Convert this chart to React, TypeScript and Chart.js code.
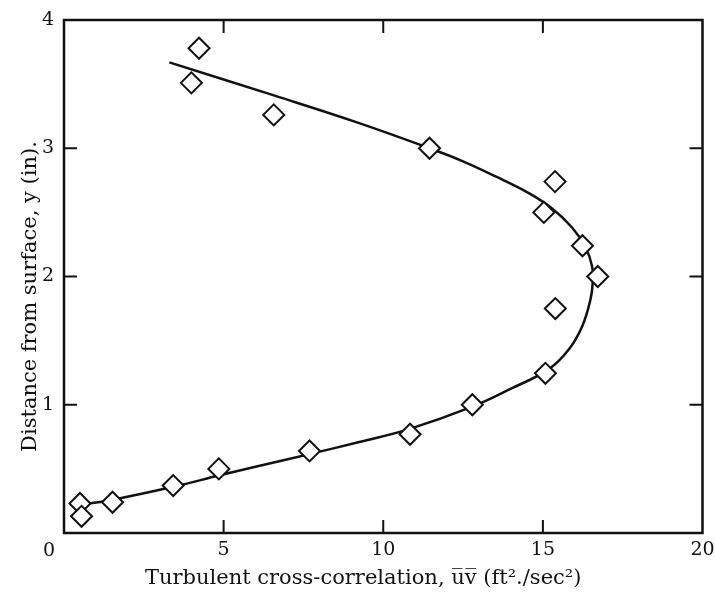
import React, { useEffect, useRef } from "react";
import { Chart, registerables } from "chart.js";

Chart.register(...registerables);

// Measured points (x: uv ft²/sec², y: distance in)
const pointX = [4.23, 3.99, 6.57, 11.45, 15.38, 15.03, 16.24, 16.72, 15.39, 15.08, 12.79, 10.84, 7.69, 4.85, 3.42, 1.52, 0.5, 0.55];
const pointY = [3.78, 3.51, 3.26, 3.0, 2.74, 2.5, 2.24, 2.0, 1.75, 1.245, 1.0, 0.77, 0.64, 0.5, 0.37, 0.24, 0.23, 0.13];

// Fitted curve (traced along its path, top to bottom)
const curveX = [3.3, 6.6, 9.2, 11.45, 12.48, 13.52, 14.56, 15.29, 15.92, 16.33, 16.54, 16.56, 16.49, 16.23, 15.81, 15.2, 14.0, 12.79, 10.81, 9.25, 7.69, 6.13, 4.875, 3.42, 1.54, 0.5];
const curveY = [3.67, 3.41, 3.2, 3.0, 2.9, 2.78, 2.65, 2.53, 2.38, 2.23, 2.08, 1.95, 1.82, 1.61, 1.43, 1.28, 1.125, 0.985, 0.81, 0.71, 0.615, 0.525, 0.45, 0.36, 0.26, 0.22];

const xTicks = [5, 10, 15];
const yTicks = [1, 2, 3];
const xLabels = ["0", "5", "10", "15", "20"];
const yLabels = ["1", "2", "3", "4"];

const xTitle = "Turbulent cross-correlation, u\u0305v\u0305 (ft\u00b2./sec\u00b2)";
const yTitle = "Distance from surface, y (in).";
const SHIFT = "\u00a0\u00a0\u00a0\u00a0\u00a0\u00a0";

const FONT = "'DejaVu Serif', serif";

const framePlugin = {
  id: "frame",
  afterDraw(chart: any) {
    const { ctx, chartArea: a, scales } = chart;
    const xs = scales.x;
    const ys = scales.y;
    ctx.save();
    ctx.strokeStyle = "#111";
    ctx.lineWidth = 2.5;
    ctx.strokeRect(a.left, a.top, a.right - a.left, a.bottom - a.top);
    ctx.lineWidth = 2;
    const len = 13;
    ctx.beginPath();
    xTicks.forEach((v) => {
      const px = xs.getPixelForValue(v);
      ctx.moveTo(px, a.bottom);
      ctx.lineTo(px, a.bottom - len);
      ctx.moveTo(px, a.top);
      ctx.lineTo(px, a.top + len);
    });
    yTicks.forEach((v) => {
      const py = ys.getPixelForValue(v);
      ctx.moveTo(a.left, py);
      ctx.lineTo(a.left + len, py);
      ctx.moveTo(a.right, py);
      ctx.lineTo(a.right - len, py);
    });
    ctx.stroke();
    // origin label, set off to the left like the original
    ctx.fillStyle = "#111";
    ctx.font = "19px " + FONT;
    ctx.textAlign = "center";
    ctx.textBaseline = "middle";
    ctx.fillText(xLabels[0], a.left - 15, a.bottom + 18);
    ctx.restore();
  },
};

export default function App() {
  const ref = useRef<HTMLCanvasElement | null>(null);
  useEffect(() => {
    document.body.style.margin = "0";
    const canvas = ref.current!;
    const chart = new Chart(canvas, {
      type: "scatter",
      data: {
        datasets: [
          {
            label: "measured",
            data: pointX.map((x, i) => ({ x, y: pointY[i] })),
            pointStyle: "rectRot",
            pointRadius: 10.5,
            pointBorderWidth: 2,
            pointBorderColor: "#111",
            pointBackgroundColor: "#fff",
            showLine: false,
            order: 0,
          },
          {
            label: "curve",
            data: curveX.map((x, i) => ({ x, y: curveY[i] })),
            showLine: true,
            borderColor: "#111",
            borderWidth: 2.5,
            pointRadius: 0,
            tension: 0.4,
            fill: false,
            order: 1,
          },
        ],
      },
      options: {
        responsive: false,
        animation: false,
        layout: { padding: { left: 0, top: 20, right: 10, bottom: 0 } },
        plugins: { legend: { display: false }, tooltip: { enabled: false } },
        scales: {
          x: {
            type: "linear",
            min: 0,
            max: 20,
            grid: { display: false, drawTicks: false },
            border: { display: false },
            ticks: {
              stepSize: 5,
              padding: 6,
              color: "#111",
              font: { family: FONT, size: 19 },
              callback: (v: any) => (v === 0 ? "" : xLabels[xLabels.indexOf(String(v))] ?? ""),
            },
            title: {
              display: true,
              text: xTitle + SHIFT,
              color: "#111",
              font: { family: FONT, size: 21 },
              padding: { top: 0, bottom: 6 },
            },
            afterFit: (s: any) => {
              s.height = 64;
              s.paddingLeft = 0;
              s.paddingRight = 0;
            },
          },
          y: {
            type: "linear",
            min: 0,
            max: 4,
            grid: { display: false, drawTicks: false },
            border: { display: false },
            ticks: {
              stepSize: 1,
              padding: 10,
              color: "#111",
              font: { family: FONT, size: 19 },
              callback: (v: any) => (v === 0 ? "" : yLabels[yLabels.indexOf(String(v))] ?? ""),
            },
            title: {
              display: true,
              text: yTitle + SHIFT,
              color: "#111",
              font: { family: FONT, size: 21 },
              padding: { top: 18, bottom: 0 },
            },
            afterFit: (s: any) => {
              s.width = 64;
              s.paddingTop = 0;
              s.paddingBottom = 0;
            },
          },
        },
      },
      plugins: [framePlugin],
    });
    return () => chart.destroy();
  }, []);
  return (
    <div style={{ width: 715, height: 597, background: "#fff" }}>
      <canvas ref={ref} width={715} height={597} style={{ display: "block" }} />
    </div>
  );
}
